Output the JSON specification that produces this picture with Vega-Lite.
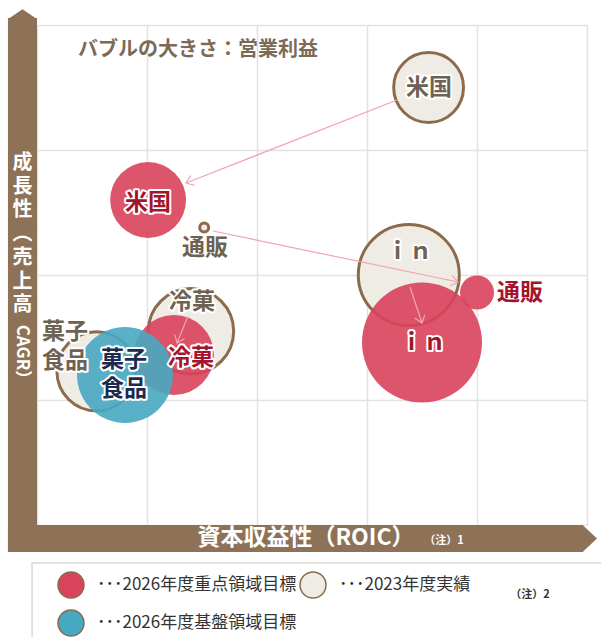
{
  "$schema": "https://vega.github.io/schema/vega-lite/v6.json",
  "width": 550,
  "height": 500,
  "autosize": {"type": "none"},
  "padding": {"left": 37, "top": 25, "right": 14, "bottom": 112},
  "background": "white",
  "config": {
    "view": {"stroke": null},
    "font": "Noto Sans CJK JP",
    "axis": {"labels": false, "ticks": false, "domain": false, "grid": true, "gridColor": "#e2e2e2", "gridWidth": 1.5}
  },
  "datasets": {
    "bars": [
      {"x0": -0.264, "x1": 0, "y0": -0.216, "y1": 4.056},
      {"x0": -0.264, "x1": 4.964, "y0": -0.216, "y1": 0}
    ],
    "tips": [
      {"dir": "up", "x": -0.132, "y": 4.0896},
      {"dir": "right", "x": 5.027, "y": -0.108}
    ],
    "box": [
      {"x0": -0.045, "x1": 5.4, "y0": -1.1, "y1": -0.304}
    ],
    "bubbles": [
      {"name": "米国", "type": "2023年度実績", "x": 3.56, "y": 3.5, "profit": 12.2},
      {"name": "ｉｎ", "type": "2023年度実績", "x": 3.38, "y": 2.0, "profit": 25.5},
      {"name": "冷菓", "type": "2023年度実績", "x": 1.4, "y": 1.55, "profit": 18.2},
      {"name": "菓子食品", "type": "2023年度実績", "x": 0.54, "y": 1.23, "profit": 15.6},
      {"name": "通販", "type": "2023年度実績", "x": 1.52, "y": 2.38, "profit": 0.2},
      {"name": "米国", "type": "2026年度重点領域目標", "x": 1.01, "y": 2.6, "profit": 14.4},
      {"name": "通販", "type": "2026年度重点領域目標", "x": 4.0, "y": 1.86, "profit": 2.9},
      {"name": "ｉｎ", "type": "2026年度重点領域目標", "x": 3.5, "y": 1.46, "profit": 36},
      {"name": "冷菓", "type": "2026年度重点領域目標", "x": 1.245, "y": 1.36, "profit": 16},
      {"name": "菓子食品", "type": "2026年度基盤領域目標", "x": 0.8, "y": 1.2, "profit": 23}
    ],
    "arrows": [
      {"name": "米国", "x1": 3.273, "y1": 3.4, "x2": 1.355, "y2": 2.736},
      {"name": "通販", "x1": 1.6, "y1": 2.352, "x2": 3.827, "y2": 1.944},
      {"name": "ｉｎ", "x1": 3.391, "y1": 1.904, "x2": 3.5, "y2": 1.616},
      {"name": "冷菓", "x1": 1.373, "y1": 1.672, "x2": 1.273, "y2": 1.456}
    ],
    "labels": [
      {"label": "米国", "type": "2023年度実績", "x": 3.564, "y": 3.496},
      {"label": "ｉｎ", "type": "2023年度実績", "x": 3.382, "y": 2.184},
      {"label": "冷菓", "type": "2023年度実績", "x": 1.409, "y": 1.784},
      {"label": "菓子\n食品", "type": "2023年度実績", "x": 0.255, "y": 1.544},
      {"label": "通販", "type": "2023年度実績", "x": 1.527, "y": 2.216},
      {"label": "米国", "type": "2026年度重点領域目標", "x": 1.009, "y": 2.576},
      {"label": "通販", "type": "2026年度重点領域目標", "x": 4.391, "y": 1.856},
      {"label": "ｉｎ", "type": "2026年度重点領域目標", "x": 3.509, "y": 1.456},
      {"label": "冷菓", "type": "2026年度重点領域目標", "x": 1.4, "y": 1.336},
      {"label": "菓子\n食品", "type": "2026年度基盤領域目標", "x": 0.791, "y": 1.32}
    ]
  },
  "layer": [
    {
      "data": {"name": "bars"},
      "mark": {"type": "rect", "color": "#8d7257"},
      "encoding": {
        "x": {"field": "x0", "type": "quantitative", "title": null, "scale": {"domain": [0, 5], "nice": false, "zero": false}, "axis": {"values": [0, 1, 2, 3, 4, 5]}},
        "x2": {"field": "x1"},
        "y": {"field": "y0", "type": "quantitative", "title": null, "scale": {"domain": [0, 4], "nice": false, "zero": false}, "axis": {"values": [0, 1, 2, 3, 4]}},
        "y2": {"field": "y1"}
      }
    },
    {
      "data": {"name": "tips"},
      "mark": {"type": "point", "filled": true, "color": "#8d7257", "opacity": 1, "size": 784},
      "encoding": {
        "x": {"field": "x", "type": "quantitative", "title": null, "scale": {"domain": [0, 5], "nice": false, "zero": false}},
        "y": {"field": "y", "type": "quantitative", "title": null, "scale": {"domain": [0, 4], "nice": false, "zero": false}},
        "shape": {"field": "dir", "type": "nominal", "legend": null, "scale": {"domain": ["up", "right"], "range": ["M-1,0.36L0,-0.33L1,0.36Z", "M-0.56,-1L0.5,0L-0.56,1Z"]}}
      }
    },
    {
      "data": {"name": "box"},
      "mark": {"type": "rect", "fill": null, "filled": false, "stroke": "#ddd7d1", "strokeWidth": 1.5},
      "encoding": {
        "x": {"field": "x0", "type": "quantitative", "title": null, "scale": {"domain": [0, 5], "nice": false, "zero": false}},
        "x2": {"field": "x1"},
        "y": {"field": "y0", "type": "quantitative", "title": null, "scale": {"domain": [0, 4], "nice": false, "zero": false}},
        "y2": {"field": "y1"}
      }
    },
    {
      "data": {"values": [{"text": "バブルの大きさ：営業利益", "x": 1.464, "y": 3.8}]},
      "mark": {"type": "text", "font": "Noto Sans CJK JP", "fontSize": 20, "fontWeight": "bold", "color": "#7b6a58", "align": "center", "baseline": "middle"},
      "encoding": {
        "x": {"field": "x", "type": "quantitative", "title": null, "scale": {"domain": [0, 5], "nice": false, "zero": false}},
        "y": {"field": "y", "type": "quantitative", "title": null, "scale": {"domain": [0, 4], "nice": false, "zero": false}},
        "text": {"field": "text"}
      }
    },
    {
      "data": {"name": "bubbles"},
      "transform": [{"filter": "datum.type === '2023年度実績'"}],
      "mark": {"type": "point", "shape": "circle", "filled": true, "opacity": 1, "stroke": "#8b6b4b", "strokeWidth": 3},
      "encoding": {
        "x": {"field": "x", "type": "quantitative", "title": null, "scale": {"domain": [0, 5], "nice": false, "zero": false}},
        "y": {"field": "y", "type": "quantitative", "title": null, "scale": {"domain": [0, 4], "nice": false, "zero": false}},
        "size": {"field": "profit", "type": "quantitative", "legend": null, "scale": {"type": "linear", "domain": [0, 36], "range": [0, 14400], "zero": true}},
        "fill": {
          "field": "type", "type": "nominal",
          "scale": {"domain": ["2026年度重点領域目標", "2023年度実績", "2026年度基盤領域目標"], "range": ["#d9435b", "#efebe5", "#47a9c1"]},
          "legend": {
            "title": null, "orient": "none", "legendX": 20, "legendY": 546, "columns": 2, "direction": "horizontal",
            "symbolType": "circle", "symbolSize": 676, "symbolOpacity": 1,
            "labelFont": "Noto Sans CJK JP", "labelFontSize": 17, "labelColor": "#333333", "labelOffset": 12, "labelLimit": 400,
            "rowPadding": 6, "columnPadding": 0, "padding": 0,
            "labelExpr": "'･･･' + datum.label",
            "encode": {"symbols": {"update": {"stroke": {"signal": "datum.value === '2023年度実績' ? '#8b6b4b' : 'transparent'"}, "strokeWidth": {"value": 2.5}}}}
          }
        }
      }
    },
    {
      "data": {"name": "bubbles"},
      "transform": [{"filter": "datum.type !== '2023年度実績'"}],
      "mark": {"type": "point", "shape": "circle", "filled": true, "opacity": 0.9, "strokeWidth": 0},
      "encoding": {
        "x": {"field": "x", "type": "quantitative", "title": null, "scale": {"domain": [0, 5], "nice": false, "zero": false}},
        "y": {"field": "y", "type": "quantitative", "title": null, "scale": {"domain": [0, 4], "nice": false, "zero": false}},
        "size": {"field": "profit", "type": "quantitative", "legend": null, "scale": {"type": "linear", "domain": [0, 36], "range": [0, 14400], "zero": true}},
        "fill": {"field": "type", "type": "nominal"}
      }
    },
    {
      "data": {"name": "arrows"},
      "mark": {"type": "rule", "color": "#f2a3b4", "strokeWidth": 1.2},
      "encoding": {
        "x": {"field": "x1", "type": "quantitative", "title": null, "scale": {"domain": [0, 5], "nice": false, "zero": false}},
        "y": {"field": "y1", "type": "quantitative", "title": null, "scale": {"domain": [0, 4], "nice": false, "zero": false}},
        "x2": {"field": "x2"},
        "y2": {"field": "y2"}
      }
    },
    {
      "data": {"name": "arrows"},
      "transform": [{"calculate": "atan2(-(datum.y2 - datum.y1) * 125, (datum.x2 - datum.x1) * 110) * 180 / PI", "as": "ang"}],
      "mark": {"type": "point", "shape": "M-1,-0.75L0,0L-1,0.75", "filled": false, "color": "#f2a3b4", "strokeWidth": 1.2, "size": 196, "opacity": 1},
      "encoding": {
        "x": {"field": "x2", "type": "quantitative", "title": null, "scale": {"domain": [0, 5], "nice": false, "zero": false}},
        "y": {"field": "y2", "type": "quantitative", "title": null, "scale": {"domain": [0, 4], "nice": false, "zero": false}},
        "angle": {"field": "ang", "type": "quantitative", "scale": null}
      }
    },
    {
      "data": {"name": "labels"},
      "mark": {"type": "text", "font": "Noto Sans CJK JP", "fontSize": 23, "fontWeight": "bold", "align": "center", "baseline": "middle", "lineBreak": "\n", "lineHeight": 29, "fill": "white", "stroke": "white", "strokeWidth": 4, "strokeJoin": "round"},
      "encoding": {
        "x": {"field": "x", "type": "quantitative", "title": null, "scale": {"domain": [0, 5], "nice": false, "zero": false}},
        "y": {"field": "y", "type": "quantitative", "title": null, "scale": {"domain": [0, 4], "nice": false, "zero": false}},
        "text": {"field": "label"}
      }
    },
    {
      "data": {"name": "labels"},
      "transform": [{"filter": "datum.type === '2023年度実績'"}],
      "mark": {"type": "text", "font": "Noto Sans CJK JP", "fontSize": 23, "fontWeight": "bold", "align": "center", "baseline": "middle", "lineBreak": "\n", "lineHeight": 29, "color": "#6e6255"},
      "encoding": {
        "x": {"field": "x", "type": "quantitative", "title": null, "scale": {"domain": [0, 5], "nice": false, "zero": false}},
        "y": {"field": "y", "type": "quantitative", "title": null, "scale": {"domain": [0, 4], "nice": false, "zero": false}},
        "text": {"field": "label"}
      }
    },
    {
      "data": {"name": "labels"},
      "transform": [{"filter": "datum.type === '2026年度重点領域目標'"}],
      "mark": {"type": "text", "font": "Noto Sans CJK JP", "fontSize": 23, "fontWeight": "bold", "align": "center", "baseline": "middle", "lineBreak": "\n", "lineHeight": 29, "color": "#a3152c"},
      "encoding": {
        "x": {"field": "x", "type": "quantitative", "title": null, "scale": {"domain": [0, 5], "nice": false, "zero": false}},
        "y": {"field": "y", "type": "quantitative", "title": null, "scale": {"domain": [0, 4], "nice": false, "zero": false}},
        "text": {"field": "label"}
      }
    },
    {
      "data": {"name": "labels"},
      "transform": [{"filter": "datum.type === '2026年度基盤領域目標'"}],
      "mark": {"type": "text", "font": "Noto Sans CJK JP", "fontSize": 23, "fontWeight": "bold", "align": "center", "baseline": "middle", "lineBreak": "\n", "lineHeight": 29, "color": "#1b2a4e"},
      "encoding": {
        "x": {"field": "x", "type": "quantitative", "title": null, "scale": {"domain": [0, 5], "nice": false, "zero": false}},
        "y": {"field": "y", "type": "quantitative", "title": null, "scale": {"domain": [0, 4], "nice": false, "zero": false}},
        "text": {"field": "label"}
      }
    },
    {
      "data": {"values": [{"text": "成\n長\n性\n︵\n売\n上\n高", "x": -0.132, "y": 2.896}]},
      "mark": {"type": "text", "font": "Noto Sans CJK JP", "fontSize": 20, "fontWeight": "bold", "color": "white", "align": "center", "baseline": "middle", "lineBreak": "\n", "lineHeight": 23.7},
      "encoding": {
        "x": {"field": "x", "type": "quantitative", "title": null, "scale": {"domain": [0, 5], "nice": false, "zero": false}},
        "y": {"field": "y", "type": "quantitative", "title": null, "scale": {"domain": [0, 4], "nice": false, "zero": false}},
        "text": {"field": "text"}
      }
    },
    {
      "data": {"values": [{"text": "CAGR）", "x": -0.132, "y": 1.352}]},
      "mark": {"type": "text", "font": "Noto Sans CJK JP", "fontSize": 17, "fontWeight": "bold", "color": "white", "align": "center", "baseline": "middle", "angle": 90},
      "encoding": {
        "x": {"field": "x", "type": "quantitative", "title": null, "scale": {"domain": [0, 5], "nice": false, "zero": false}},
        "y": {"field": "y", "type": "quantitative", "title": null, "scale": {"domain": [0, 4], "nice": false, "zero": false}},
        "text": {"field": "text"}
      }
    },
    {
      "data": {"values": [{"text": "資本収益性（ROIC）", "x": 2.445, "y": -0.104}]},
      "mark": {"type": "text", "font": "Noto Sans CJK JP", "fontSize": 23, "fontWeight": "bold", "color": "white", "align": "center", "baseline": "middle"},
      "encoding": {
        "x": {"field": "x", "type": "quantitative", "title": null, "scale": {"domain": [0, 5], "nice": false, "zero": false}},
        "y": {"field": "y", "type": "quantitative", "title": null, "scale": {"domain": [0, 4], "nice": false, "zero": false}},
        "text": {"field": "text"}
      }
    },
    {
      "data": {"values": [{"text": "（注）1", "x": 3.7, "y": -0.128}]},
      "mark": {"type": "text", "font": "Noto Sans CJK JP", "fontSize": 11, "fontWeight": "bold", "color": "white", "align": "center", "baseline": "middle"},
      "encoding": {
        "x": {"field": "x", "type": "quantitative", "title": null, "scale": {"domain": [0, 5], "nice": false, "zero": false}},
        "y": {"field": "y", "type": "quantitative", "title": null, "scale": {"domain": [0, 4], "nice": false, "zero": false}},
        "text": {"field": "text"}
      }
    },
    {
      "data": {"values": [{"text": "（注）2", "x": 4.482, "y": -0.56}]},
      "mark": {"type": "text", "font": "Noto Sans CJK JP", "fontSize": 11, "fontWeight": "bold", "color": "#333333", "align": "center", "baseline": "middle"},
      "encoding": {
        "x": {"field": "x", "type": "quantitative", "title": null, "scale": {"domain": [0, 5], "nice": false, "zero": false}},
        "y": {"field": "y", "type": "quantitative", "title": null, "scale": {"domain": [0, 4], "nice": false, "zero": false}},
        "text": {"field": "text"}
      }
    }
  ]
}
